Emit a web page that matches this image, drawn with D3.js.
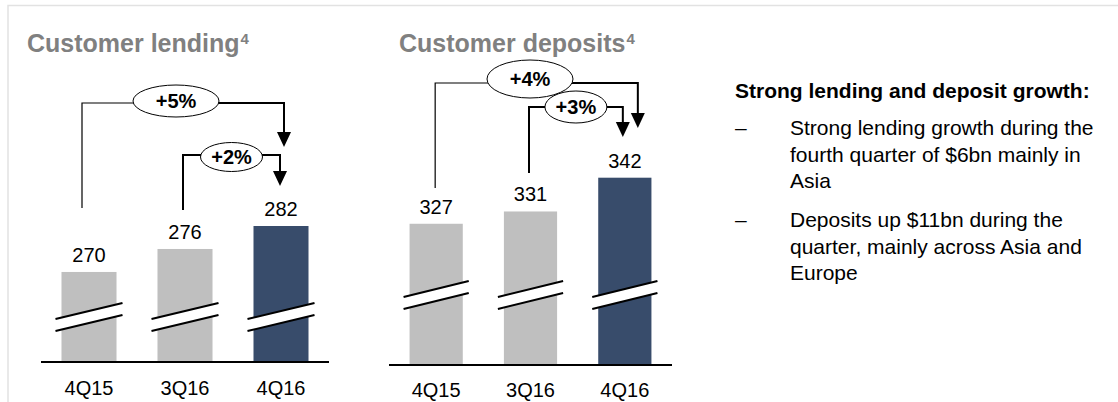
<!DOCTYPE html>
<html>
<head>
<meta charset="utf-8">
<script src="https://cdn.jsdelivr.net/npm/d3@7"></script>
<style>
  html, body { margin: 0; padding: 0; background: #fff; }
  svg { display: block; font-family: "Liberation Sans", Arial, sans-serif; }
</style>
</head>
<body>
<div id="chart"></div>
<script>
// data
const quarters = ["4Q15", "3Q16", "4Q16"];
const lendingValues = [270, 276, 282];
const depositValues = [327, 331, 342];
const lendingGrowth = [
  { from: "4Q15", to: "4Q16", label: "+5%" },
  { from: "3Q16", to: "4Q16", label: "+2%" }
];
const depositGrowth = [
  { from: "4Q15", to: "4Q16", label: "+4%" },
  { from: "3Q16", to: "4Q16", label: "+3%" }
];
const commentTitle = "Strong lending and deposit growth:";
const commentBullets = [
  ["Strong lending growth during the", "fourth quarter of $6bn mainly in", "Asia"],
  ["Deposits up $11bn during the", "quarter, mainly across Asia and", "Europe"]
];

const width = 1118, height = 402;
const grey = "#bfbfbf", navy = "#384c6b", titleGrey = "#808080";

const svg = d3.select("#chart")
  .append("svg")
  .attr("width", width)
  .attr("height", height);

// light frame (top + left)
svg.append("path")
  .attr("d", "M8,402V5.5H1118")
  .attr("fill", "none")
  .attr("stroke", "#e2e2e2")
  .attr("stroke-width", 1.5);

const panels = [
  {
    title: "Customer lending", titleX: 27,
    values: lendingValues, growth: lendingGrowth,
    xRange: [41, 329], inner: 0.427,
    yDomain: [246.5, 282], yRange: [362, 226],
    axisY: 362, catY: 395, breakOffset: 45,
    ann: [
      { fromDx: -7, toDx: 3, lineY: 103, startY: 208, tipY: 147, ex: -7, ey: 101, rx: 43, ry: 16, thin: true },
      { fromDx: -2, toDx: -1, lineY: 155, startY: 210, tipY: 186, ex: 0, ey: 157, rx: 31, ry: 14.5, thin: false }
    ]
  },
  {
    title: "Customer deposits", titleX: 399,
    values: depositValues, growth: depositGrowth,
    xRange: [389, 672], inner: 0.436,
    yDomain: [281, 342], yRange: [365, 177.7],
    axisY: 365, catY: 397, breakOffset: 70,
    ann: [
      { fromDx: -1, toDx: 13, lineY: 83, startY: 188, tipY: 128, ex: -6.5, ey: 79, rx: 43, ry: 19, thin: true },
      { fromDx: -1.5, toDx: -2, lineY: 107, startY: 173, tipY: 137, ex: 0, ey: 107, rx: 31, ry: 16, thin: false }
    ]
  }
];

panels.forEach(drawPanel);

function drawPanel(p) {
  const data = quarters.map((q, i) => ({ q, v: p.values[i], last: i === quarters.length - 1 }));

  const xScale = d3.scaleBand()
    .domain(quarters)
    .range(p.xRange)
    .paddingInner(p.inner)
    .paddingOuter(p.inner / 2);
  const yScale = d3.scaleLinear()
    .domain(p.yDomain)
    .range(p.yRange);
  const bw = xScale.bandwidth();
  const cx = (q) => xScale(q) + bw / 2;

  const g = svg.append("g");

  // title with superscript footnote
  const title = g.append("text")
    .attr("x", p.titleX)
    .attr("y", 52)
    .attr("font-size", 25)
    .attr("font-weight", "bold")
    .attr("fill", titleGrey)
    .text(p.title);
  title.append("tspan")
    .attr("dx", 1)
    .attr("dy", -8)
    .attr("font-size", 15)
    .text("4");

  // bars
  g.selectAll("rect.bar")
    .data(data)
    .enter()
    .append("rect")
    .attr("class", "bar")
    .attr("x", (d) => xScale(d.q))
    .attr("y", (d) => yScale(d.v))
    .attr("width", bw)
    .attr("height", (d) => p.axisY - yScale(d.v))
    .attr("fill", (d) => d.last ? navy : grey);

  // axis break marks
  const ext = 6, rise = 16, gap = 12;
  const breakY = p.axisY - p.breakOffset;
  const brk = g.selectAll("g.brk")
    .data(data)
    .enter()
    .append("g")
    .attr("class", "brk");
  brk.append("polygon")
    .attr("points", (d) => {
      const x0 = xScale(d.q) - ext, x1 = xScale(d.q) + bw + ext;
      return [
        [x0, breakY - gap / 2 + rise / 2], [x1, breakY - gap / 2 - rise / 2],
        [x1, breakY + gap / 2 - rise / 2], [x0, breakY + gap / 2 + rise / 2]
      ].join(" ");
    })
    .attr("fill", "#fff");
  [-gap / 2, gap / 2].forEach((off) => {
    brk.append("line")
      .attr("x1", (d) => xScale(d.q) - ext)
      .attr("x2", (d) => xScale(d.q) + bw + ext)
      .attr("y1", breakY + off + rise / 2)
      .attr("y2", breakY + off - rise / 2)
      .attr("stroke", "#000")
      .attr("stroke-width", 2);
  });

  // baseline
  g.append("line")
    .attr("x1", p.xRange[0])
    .attr("x2", p.xRange[1])
    .attr("y1", p.axisY)
    .attr("y2", p.axisY)
    .attr("stroke", "#000")
    .attr("stroke-width", 2);

  // value labels
  g.selectAll("text.val")
    .data(data)
    .enter()
    .append("text")
    .attr("class", "val")
    .attr("x", (d) => cx(d.q))
    .attr("y", (d) => yScale(d.v) - 10)
    .attr("text-anchor", "middle")
    .attr("font-size", 20)
    .attr("fill", "#000")
    .text((d) => d.v);

  // category labels
  g.selectAll("text.cat")
    .data(data)
    .enter()
    .append("text")
    .attr("class", "cat")
    .attr("x", (d) => cx(d.q))
    .attr("y", p.catY)
    .attr("text-anchor", "middle")
    .attr("font-size", 20)
    .attr("fill", "#000")
    .text((d) => d.q);

  // growth brackets
  p.growth.forEach((gr, i) => {
    const a = p.ann[i];
    const x0 = cx(gr.from) + a.fromDx;
    const x1 = cx(gr.to) + a.toDx;
    const ex = (x0 + x1) / 2 + a.ex;
    const headH = 15, headW = 7;
    const leftW = a.thin ? 1.2 : 2;

    g.append("path")
      .attr("d", `M${x0},${a.startY}V${a.lineY}H${ex}`)
      .attr("fill", "none")
      .attr("stroke", "#000")
      .attr("stroke-width", leftW);
    g.append("path")
      .attr("d", `M${ex},${a.lineY}H${x1}V${a.tipY - headH + 1}`)
      .attr("fill", "none")
      .attr("stroke", "#000")
      .attr("stroke-width", 2);
    g.append("path")
      .attr("d", `M${x1 - headW},${a.tipY - headH}L${x1 + headW},${a.tipY - headH}L${x1},${a.tipY}Z`)
      .attr("fill", "#000");

    g.append("ellipse")
      .attr("cx", ex)
      .attr("cy", a.ey)
      .attr("rx", a.rx)
      .attr("ry", a.ry)
      .attr("fill", "#fff")
      .attr("stroke", "#000")
      .attr("stroke-width", 1);
    g.append("text")
      .attr("x", ex)
      .attr("y", a.ey + 7)
      .attr("text-anchor", "middle")
      .attr("font-size", 20)
      .attr("font-weight", "bold")
      .attr("fill", "#000")
      .text(gr.label);
  });
}

// commentary on the right
const notes = svg.append("g");
notes.append("text")
  .attr("x", 735)
  .attr("y", 98)
  .attr("font-size", 21)
  .attr("font-weight", "bold")
  .attr("fill", "#000")
  .text(commentTitle);

const lineH = 26.5;
let yPos = 135;
commentBullets.forEach((lines) => {
  notes.append("text")
    .attr("x", 735)
    .attr("y", yPos)
    .attr("font-size", 21)
    .attr("fill", "#000")
    .text("\u2013");
  lines.forEach((ln, j) => {
    notes.append("text")
      .attr("x", 790)
      .attr("y", yPos + j * lineH)
      .attr("font-size", 21)
      .attr("fill", "#000")
      .text(ln);
  });
  yPos += (lines.length - 1) * lineH + 39;
});
</script>
</body>
</html>
